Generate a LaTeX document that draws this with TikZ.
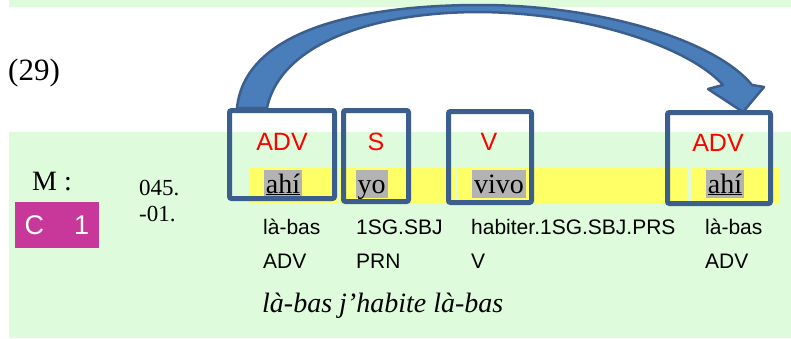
\documentclass[tikz,border=0pt]{standalone}
\usepackage{fontspec}
\setmainfont{Liberation Serif}
\setsansfont{Liberation Sans}

\definecolor{bandgreen}{HTML}{DEFCDC}
\definecolor{hlyellow}{HTML}{FFFF66}
\definecolor{wordgray}{HTML}{B3B3B3}
\definecolor{boxblue}{HTML}{3B5E8C}
\definecolor{arrowblue}{HTML}{4A7EBB}
\definecolor{tagmagenta}{HTML}{C8379A}

\newcommand{\fsz}[1]{\fontsize{#1}{#1}\selectfont}

\begin{document}
\begin{tikzpicture}[x = 1pt, y = -1pt,
    slot/.style = {draw=boxblue, line width=5pt, rounded corners=2pt, inner sep=0},
    funct/.style = {font=\sffamily\fsz{25}, text=red, inner sep=0},
    word/.style = {font=\fsz{28}, fill=wordgray, inner xsep=2pt, inner ysep=2pt,
        text height=21pt, text depth=3pt},
    gloss/.style = {font=\sffamily\fsz{21}, anchor=base west, inner sep=0},
    serif/.style = {anchor=base west, inner sep=0}
]
    \useasboundingbox (0, 0) rectangle (791, 338);

    % Background bands
    \fill [bandgreen] (9, 0) rectangle (791, 7);
    \fill [bandgreen] (9, 132) rectangle (791, 338);
    \foreach \a/\b in {249/338, 340/455, 457/687, 692/780}{
        \fill [hlyellow] (\a, 168) rectangle (\b, 204);
    }

    % Example number and speaker
    \node [serif, font=\fsz{31}] (exnum) at (8, 80) {(29)};
    \node [serif, font=\fsz{28}] (speaker) at (32, 190) {M :};
    \node [fill=tagmagenta, text=white, font=\sffamily\fsz{27},
        minimum width=84, minimum height=46, inner sep=0] (tag) at (57, 225) {C\hspace{30pt}1};
    \node [serif, font=\fsz{23}] (refA) at (139, 195) {045.};
    \node [serif, font=\fsz{23}] (refB) at (139, 221) {-01.};

    % Words
    \node [word] (wordA) at (283, 184) {\underline{ahí}};
    \node [word] (wordB) at (371.5, 184) {yo};
    \node [word] (wordC) at (499, 184) {vivo};
    \node [word] (wordD) at (725, 184) {\underline{ahí}};

    % Glosses
    \foreach \x/\gl/\cat [count=\i] in {263/là-bas/ADV, 356/1SG.SBJ/PRN,
        471/habiter.1SG.SBJ.PRS/V, 705/là-bas/ADV}{
        \node [gloss] (gloss\i) at (\x, 234) {\gl};
        \node [gloss] (cat\i) at (\x, 268) {\cat};
    }
    \node [serif, font=\itshape\fsz{28}] (transl) at (262, 312) {là-bas j'habite là-bas};

    % Functions
    \node [funct] (funA) at (282, 142) {ADV};
    \node [funct] (funB) at (376, 142) {S};
    \node [funct] (funC) at (489, 142) {V};
    \node [funct] (funD) at (718, 143) {ADV};

    % Boxes
    \node [slot, minimum width=105, minimum height=88] (advA) at (282, 154.5) {};
    \node [slot, minimum width=65, minimum height=91] (subj) at (376, 156) {};
    \node [slot, minimum width=83, minimum height=91] (verb) at (490, 157) {};
    \node [slot, minimum width=103, minimum height=91] (advB) at (719, 158) {};

    % Fronting arrow
    \coordinate (tip) at ([xshift=24pt, yshift=-2pt]advB.north);
    \filldraw [fill=arrowblue, draw=boxblue, line width=2.5pt, line join=round]
        ([xshift=10pt]advA.north west)
        .. controls (245, 30) and (360, 5) .. (480, 5)
        .. controls (600, 5) and (715, 40) .. ([shift={(9, -27)}]tip)
        -- ([shift={(21, -25)}]tip) -- (tip) -- ([shift={(-35, -23)}]tip)
        -- ([shift={(-20, -27)}]tip)
        .. controls (690, 48) and (590, 13) .. (480, 12)
        .. controls (370, 12) and (280, 45) .. ([xshift=40pt]advA.north west)
        -- cycle
    ;
\end{tikzpicture}
\end{document}
